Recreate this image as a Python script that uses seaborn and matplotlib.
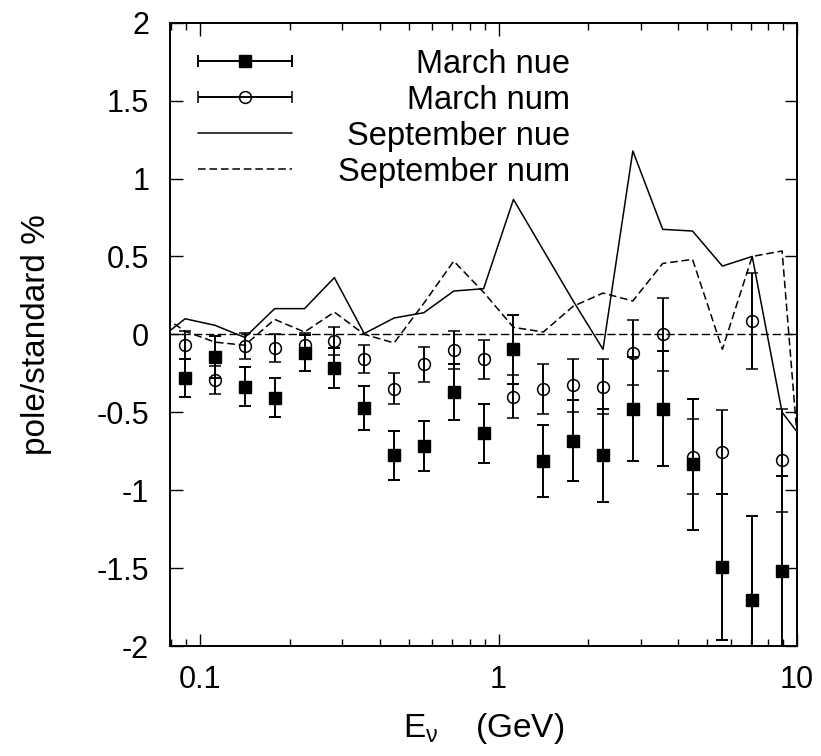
import numpy as np
import pandas as pd
import matplotlib
matplotlib.use("Agg")
import matplotlib.pyplot as plt
import seaborn as sns
from matplotlib.legend_handler import HandlerErrorbar
from matplotlib.container import ErrorbarContainer
from matplotlib.ticker import FixedLocator, LogLocator, NullFormatter

# ---------------- data ----------------
energy = [0.0891, 0.1122, 0.1413, 0.1778, 0.2239, 0.2818, 0.3548, 0.4467, 0.5623,
          0.7079, 0.8913, 1.122, 1.413, 1.778, 2.239, 2.818, 3.548, 4.467, 5.623,
          7.079, 8.913]
march_nue = [-0.28, -0.143, -0.336, -0.406, -0.118, -0.216, -0.473, -0.777, -0.717,
             -0.37, -0.635, -0.096, -0.813, -0.682, -0.777, -0.477, -0.477, -0.834,
             -1.494, -1.707, -1.52]
march_nue_err = [0.125, 0.135, 0.125, 0.125, 0.115, 0.13, 0.14, 0.155, 0.16,
                 0.18, 0.19, 0.22, 0.23, 0.26, 0.30, 0.333, 0.37, 0.42,
                 0.47, 0.54, 0.61]
march_num = [-0.068, -0.29, -0.075, -0.086, -0.07, -0.043, -0.16, -0.349, -0.193,
             -0.10, -0.16, -0.40, -0.353, -0.327, -0.336, -0.118, 0.0, -0.785,
             -0.755, 0.085, -0.807]
march_num_err = [0.088, 0.09, 0.085, 0.09, 0.08, 0.09, 0.09, 0.10, 0.11,
                 0.12, 0.125, 0.14, 0.16, 0.17, 0.175, 0.21, 0.235, 0.24,
                 0.27, 0.31, 0.33]
energy_sep = [0.0708, 0.0891, 0.1122, 0.1413, 0.1778, 0.2239, 0.2818, 0.3548, 0.4467,
              0.5623, 0.7079, 0.8913, 1.122, 1.413, 1.778, 2.239, 2.818, 3.548, 4.467,
              5.623, 7.079, 8.913, 11.22]
sep_nue = [-0.05, 0.10, 0.058, -0.02, 0.165, 0.165, 0.364, 0.005, 0.105, 0.139,
           0.278, 0.293, 0.866, 0.54, 0.215, -0.096, 1.177, 0.674, 0.663, 0.438,
           0.50, -0.50, -0.75]
sep_num = [0.15, 0.02, -0.05, -0.07, 0.096, 0.015, 0.143, 0.0, -0.055, 0.20,
           0.47, 0.27, 0.045, 0.015, 0.18, 0.265, 0.214, 0.455, 0.481, -0.096,
           0.50, 0.535, -1.83]
series_labels = ["March nue", "March num", "September nue", "September num"]
x_ticks = [0.1, 1, 10]
x_tick_labels = ["0.1", "1", "10"]
y_ticks = [-2, -1.5, -1, -0.5, 0, 0.5, 1, 1.5, 2]
y_tick_labels = ["-2", "-1.5", "-1", "-0.5", "0", "0.5", "1", "1.5", "2"]

# ---------------- style ----------------
sns.set_theme(style="ticks")
plt.rcParams["font.family"] = ["Liberation Sans", "DejaVu Sans"]
plt.rcParams["axes.unicode_minus"] = False
plt.rcParams["mathtext.fontset"] = "custom"
plt.rcParams["mathtext.rm"] = "Liberation Sans"
plt.rcParams["mathtext.it"] = "Liberation Sans:italic"
plt.rcParams["mathtext.bf"] = "Liberation Sans:bold"
plt.rcParams["text.color"] = "black"

W, H = 821, 756
fig = plt.figure(figsize=(W / 100, H / 100), dpi=100)
fig.patch.set_facecolor("white")
ax = fig.add_axes([170 / W, 1 - 646 / H, 627 / W, 623.3 / H])
ax.set_facecolor("white")
ax.set_xscale("log")

dash = (0, (5, 2.5))
ax.axhline(0, color="black", lw=1.0, linestyle=(0, (6, 2.5)), zorder=1)

df_sep = pd.DataFrame({"E": energy_sep, "nue": sep_nue, "num": sep_num})
sns.lineplot(data=df_sep, x="E", y="nue", ax=ax, color="black", lw=1.1,
             estimator=None, sort=False, zorder=2)
sns.lineplot(data=df_sep, x="E", y="num", ax=ax, color="black", lw=1.1,
             linestyle=dash, estimator=None, sort=False, zorder=2)
line_nue, line_num = ax.lines[-2], ax.lines[-1]

eb_kw = dict(color="black", ecolor="black", elinewidth=1.4, capsize=4.3,
             capthick=1.4, zorder=3)
ax.errorbar(energy, march_nue, yerr=march_nue_err, fmt="s", ms=8.5,
            mfc="black", mec="black", **eb_kw)
ax.errorbar(energy, march_num, yerr=march_num_err, fmt="o", ms=8.5,
            mfc="none", mec="black", mew=1.1, **eb_kw)

# legend-only handles (horizontal error bar like the original key)
h_nue = ax.errorbar([np.nan], [np.nan], xerr=[1], fmt="s", ms=8.5,
                    mfc="black", mec="black", **eb_kw)
h_num = ax.errorbar([np.nan], [np.nan], xerr=[1], fmt="o", ms=8.5,
                    mfc="none", mec="black", mew=1.1, **eb_kw)

ax.set_xlim(0.0793, 10)
ax.set_ylim(-2, 2)

ax.xaxis.set_major_locator(FixedLocator(x_ticks))
ax.set_xticklabels(x_tick_labels)
ax.xaxis.set_minor_locator(LogLocator(base=10, subs=np.arange(2, 10) * 1.0, numticks=30))
ax.xaxis.set_minor_formatter(NullFormatter())
ax.set_yticks(y_ticks)
ax.set_yticklabels(y_tick_labels)
ax.tick_params(which="both", direction="in", top=True, right=True,
               color="black", width=1.0, labelcolor="black")
ax.tick_params(which="major", length=9, labelsize=22)
ax.tick_params(which="minor", length=5)
ax.tick_params(axis="y", pad=15)
ax.tick_params(axis="x", pad=14)
for s in ax.spines.values():
    s.set_linewidth(1.4)
    s.set_color("black")

ax.set_ylabel("pole/standard %", fontsize=24, color="black")
ax.yaxis.set_label_coords(-0.188, 0.5)
ax.set_xlabel("E$_{\\mathrm{\\nu}}$    (GeV)", fontsize=24, color="black")
ax.xaxis.set_label_coords(0.5, -0.105)

leg_fs = 23.5
leg = ax.legend([h_nue, h_num, line_nue, line_num], series_labels,
                loc="upper left", bbox_to_anchor=(0.0447, 0.958),
                borderaxespad=0, borderpad=0, frameon=False, fontsize=leg_fs,
                handlelength=2.88, handletextpad=1.4, labelspacing=0.15,
                handler_map={ErrorbarContainer: HandlerErrorbar(xerr_size=1.44)})

# right-align the key texts like the original (gnuplot "Right" key)
fig.canvas.draw()
renderer = fig.canvas.get_renderer()
texts = leg.get_texts()
bbs = [t.get_window_extent(renderer) for t in texts]
xr = max(b.x1 for b in bbs)
inv = fig.transFigure.inverted()
for t, b in zip(texts, bbs):
    t.set_visible(False)
    fx, fy = inv.transform((xr, (b.y0 + b.y1) / 2))
    fig.text(fx, fy, t.get_text(), ha="right", va="center", fontsize=leg_fs,
             color="black")

fig.savefig("out.png", dpi=100)
